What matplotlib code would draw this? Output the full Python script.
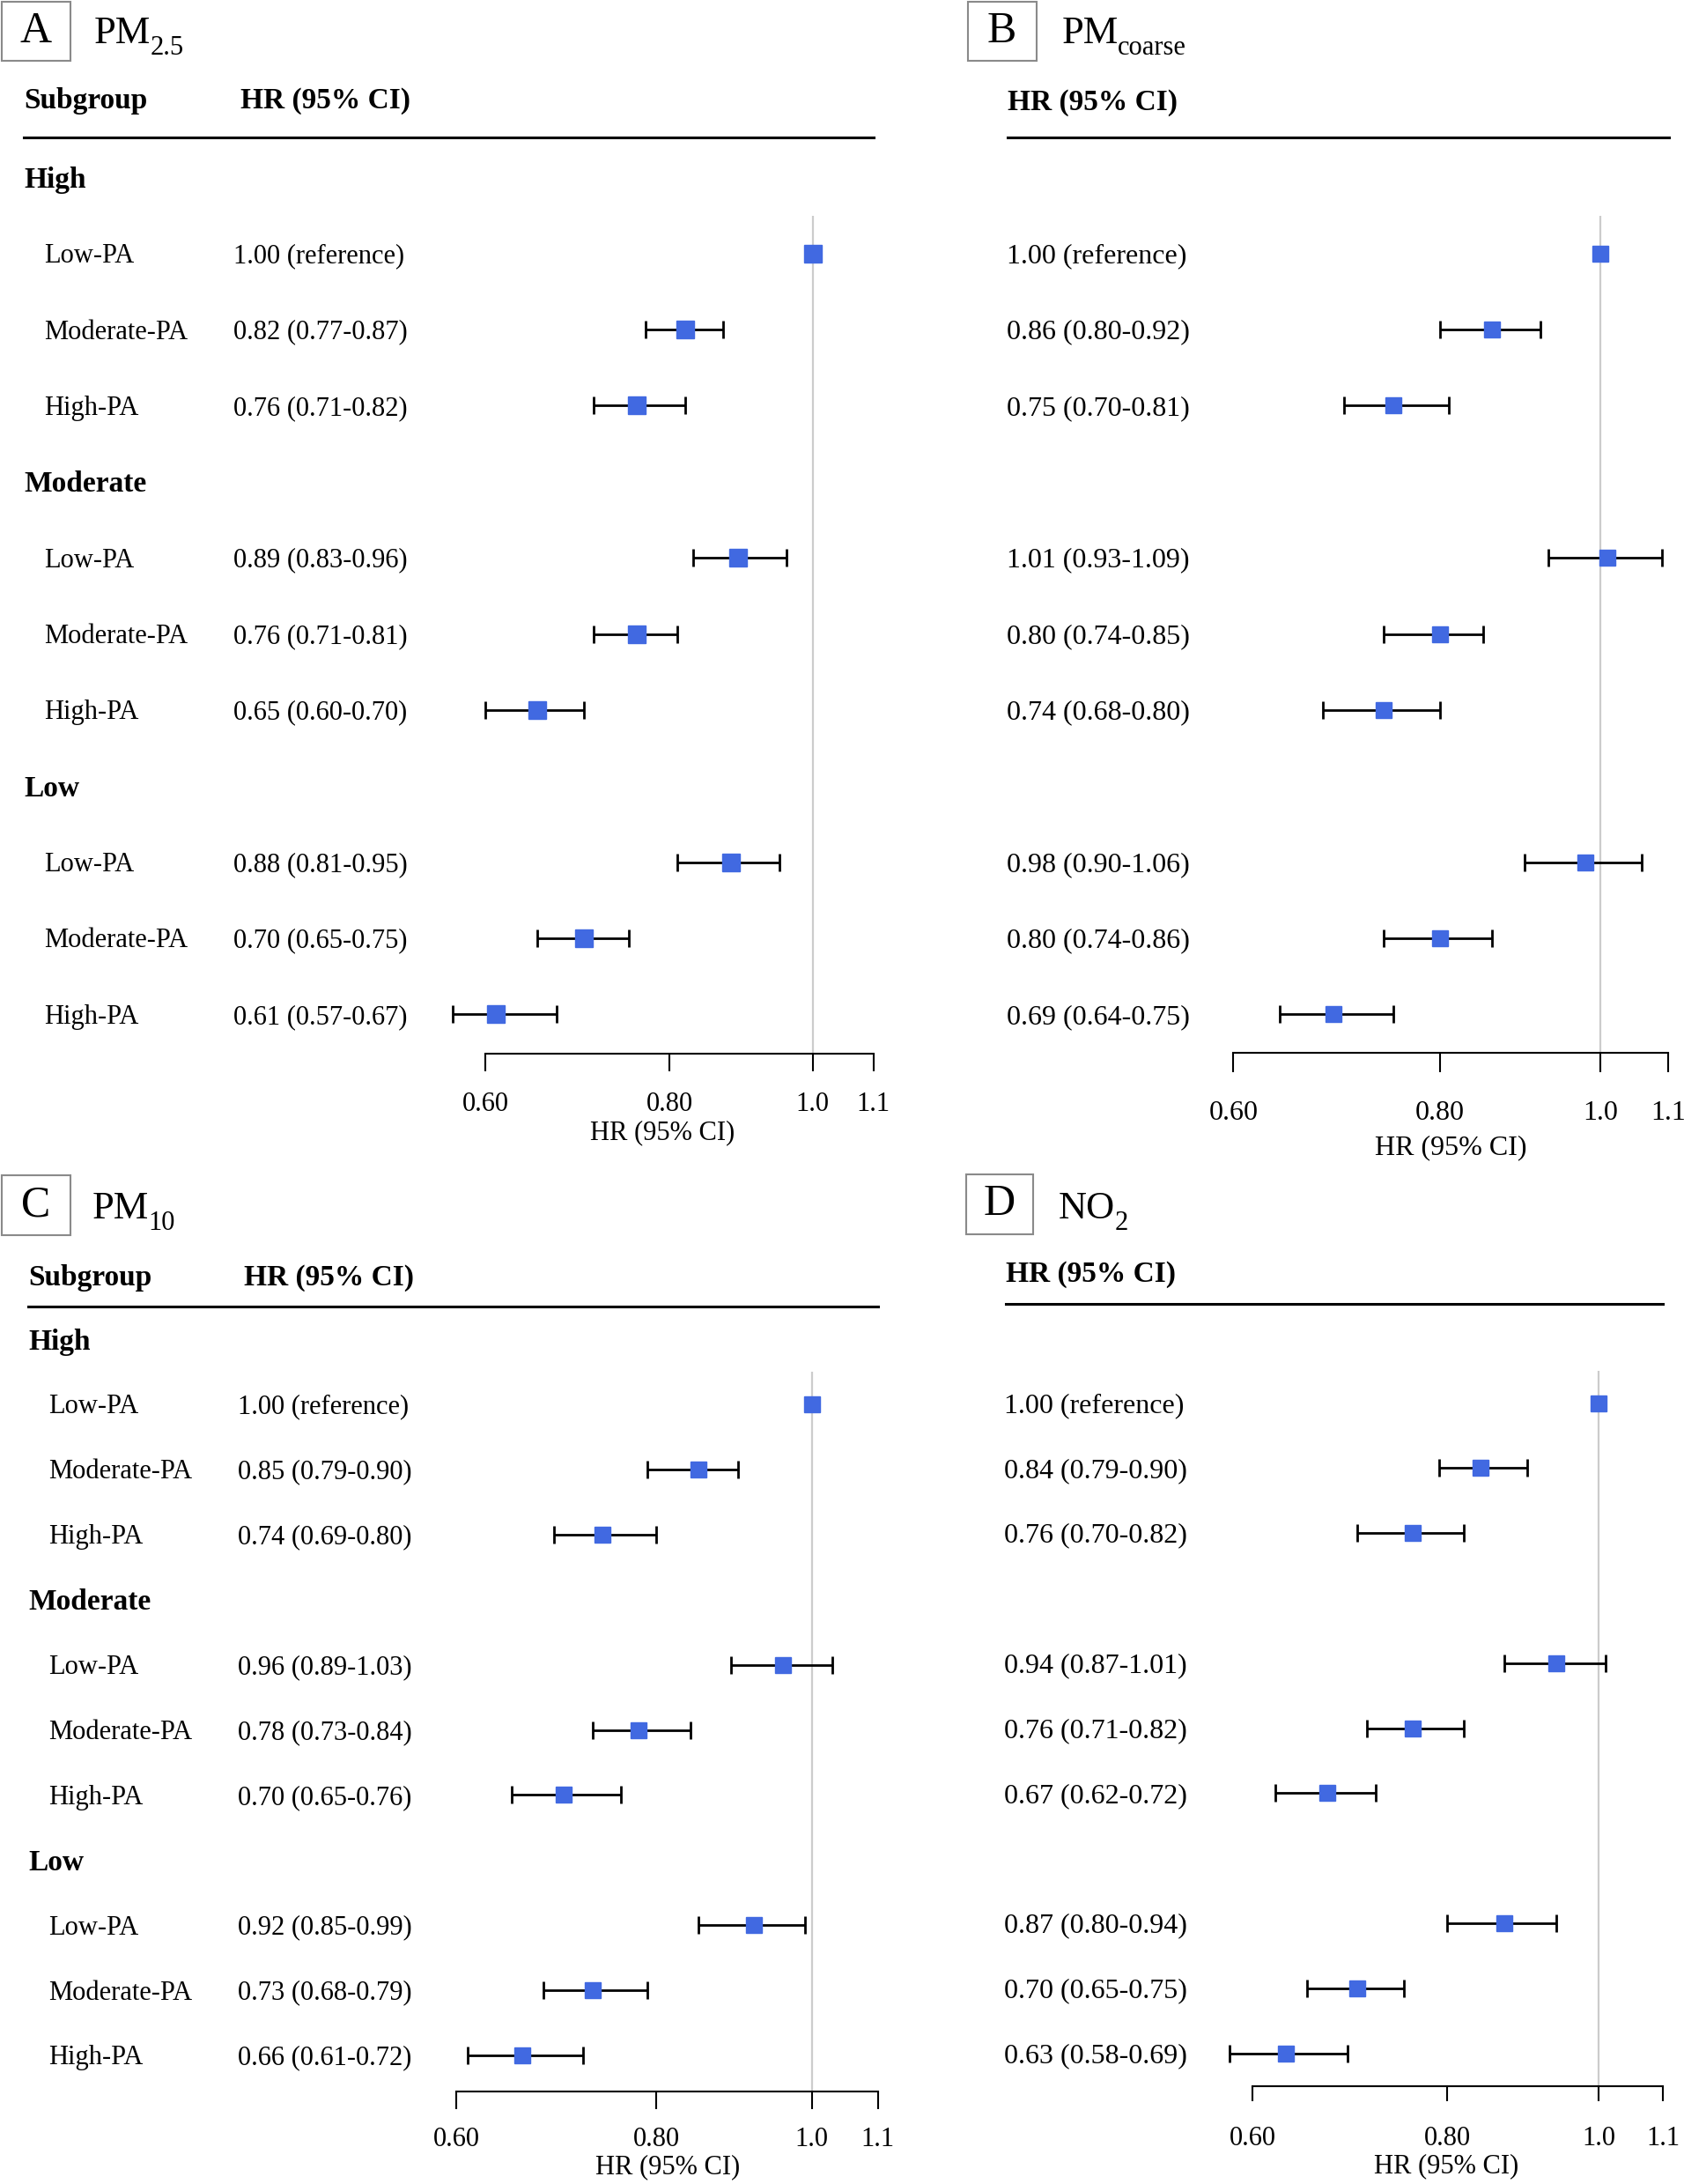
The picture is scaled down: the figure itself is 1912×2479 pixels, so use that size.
import numpy as np
import matplotlib
matplotlib.use("Agg")
import matplotlib.pyplot as plt
import matplotlib.transforms as mtransforms
from matplotlib.patches import Rectangle
from matplotlib.lines import Line2D

# ─── DATA ─────────────────────────────────────────────────────────────────────
nan = np.nan
groups = ["High", "Moderate", "Low"]
subgroups = ["Low-PA", "Moderate-PA", "High-PA"]
tick_vals = [0.60, 0.80, 1.0, 1.1]
tick_labels = ["0.60", "0.80", "1.0", "1.1"]

pm25_hr = [1.00, 0.82, 0.76, 0.89, 0.76, 0.65, 0.88, 0.70, 0.61]
pm25_lo = [nan, 0.77, 0.71, 0.83, 0.71, 0.60, 0.81, 0.65, 0.57]
pm25_hi = [nan, 0.87, 0.82, 0.96, 0.81, 0.70, 0.95, 0.75, 0.67]

pmc_hr = [1.00, 0.86, 0.75, 1.01, 0.80, 0.74, 0.98, 0.80, 0.69]
pmc_lo = [nan, 0.80, 0.70, 0.93, 0.74, 0.68, 0.90, 0.74, 0.64]
pmc_hi = [nan, 0.92, 0.81, 1.09, 0.85, 0.80, 1.06, 0.86, 0.75]

pm10_hr = [1.00, 0.85, 0.74, 0.96, 0.78, 0.70, 0.92, 0.73, 0.66]
pm10_lo = [nan, 0.79, 0.69, 0.89, 0.73, 0.65, 0.85, 0.68, 0.61]
pm10_hi = [nan, 0.90, 0.80, 1.03, 0.84, 0.76, 0.99, 0.79, 0.72]

no2_hr = [1.00, 0.84, 0.76, 0.94, 0.76, 0.67, 0.87, 0.70, 0.63]
no2_lo = [nan, 0.79, 0.70, 0.87, 0.71, 0.62, 0.80, 0.65, 0.58]
no2_hi = [nan, 0.90, 0.82, 1.01, 0.82, 0.72, 0.94, 0.75, 0.69]

# ─── STYLE ────────────────────────────────────────────────────────────────────
plt.rcParams["font.family"] = ["Liberation Serif", "DejaVu Serif"]

BLUE = "#4169E1"
W, H = 1912, 2479

fig = plt.figure(figsize=(W / 100, H / 100), dpi=100, facecolor="white")
renderer = fig.canvas.get_renderer()


def fx(px):
    return px / W


def fy(py):
    return 1 - py / H


# layout per panel, in output pixels
panels = [
    dict(letter="A", title="PM", sub="2.5", hr=pm25_hr, lo=pm25_lo, hi=pm25_hi,
         box=(2, 2, 80, 69), title_x=107, title_base=49,
         head_y=115, line_y=156, line_x=(27, 992),
         sub_x=27, row_x=50, hr_x=265, hrhead_x=273,
         row1=287.8, sp=86.35, ax_x=(551.4, 991.8), ax_y=1195.7,
         fs=22, ms=14, tick_len=20, tick_c=1249, tick_fs=22, xl=(752, 1286)),
    dict(letter="B", title="PM", sub="coarse", hr=pmc_hr, lo=pmc_lo, hi=pmc_hi,
         box=(1099, 2, 1176.5, 69), title_x=1206, title_base=49,
         head_y=117, line_y=156, line_x=(1144, 1895),
         sub_x=None, row_x=None, hr_x=1143, hrhead_x=1144,
         row1=287.8, sp=86.35, ax_x=(1400.4, 1894.4), ax_y=1195,
         fs=23, ms=13.5, tick_len=22, tick_c=1260, tick_fs=23, xl=(1647, 1303)),
    dict(letter="C", title="PM", sub="10", hr=pm10_hr, lo=pm10_lo, hi=pm10_hi,
         box=(2, 1334, 80, 1402), title_x=105, title_base=1383,
         head_y=1450, line_y=1483, line_x=(32, 997),
         sub_x=32, row_x=55, hr_x=270, hrhead_x=277,
         row1=1594, sp=73.9, ax_x=(518.2, 996.8), ax_y=2374,
         fs=22, ms=13, tick_len=20, tick_c=2424, tick_fs=22, xl=(757.7, 2460)),
    dict(letter="D", title="NO", sub="2", hr=no2_hr, lo=no2_lo, hi=no2_hi,
         box=(1097, 1333, 1173, 1401), title_x=1202, title_base=1383,
         head_y=1446, line_y=1480, line_x=(1142, 1888),
         sub_x=None, row_x=None, hr_x=1140, hrhead_x=1142,
         row1=1592.6, sp=73.8, ax_x=(1422.3, 1888.3), ax_y=2368,
         fs=23, ms=13, tick_len=17, tick_c=2423, tick_fs=22, xl=(1641.7, 2459)),
]

group_rows = [0, 4, 8]
item_rows = np.array([1, 2, 3, 5, 6, 7, 9, 10, 11])

for p in panels:
    hr = np.array(p["hr"])
    lo = np.array(p["lo"])
    hi = np.array(p["hi"])

    # ─── forest axis ─────────────────────────────────────────────────────────
    top_px = p["row1"] - 0.5 * p["sp"]
    axis_row = 1 + (p["ax_y"] - p["row1"]) / p["sp"]
    x0, x1 = p["ax_x"]
    ax = fig.add_axes([fx(x0), fy(p["ax_y"]), (x1 - x0) / W, (p["ax_y"] - top_px) / H])
    ax.set_xscale("log")
    ax.set_xlim(0.6, 1.1)
    ax.set_ylim(axis_row, 0.5)
    ax.patch.set_visible(False)
    for s in ["top", "left", "right"]:
        ax.spines[s].set_visible(False)
    ax.spines["bottom"].set_linewidth(1.5)
    ax.set_yticks([])
    ax.set_xticks(tick_vals)
    ax.set_xticklabels(tick_labels)
    ax.minorticks_off()
    digit_half = 0.34 * p["tick_fs"] * 100 / 72
    pad_px = (p["tick_c"] - p["ax_y"]) - p["tick_len"] - digit_half
    ax.tick_params(axis="x", length=p["tick_len"] * 0.72, width=1.5,
                   pad=pad_px * 0.72, labelsize=p["tick_fs"])

    ax.axvline(1.0, color="#cccccc", lw=1.6, zorder=1)
    m = ~np.isnan(lo)
    ax.errorbar(hr[m], item_rows[m], xerr=[hr[m] - lo[m], hi[m] - hr[m]],
                fmt="none", ecolor="black", elinewidth=2, capsize=7, capthick=2,
                zorder=2, clip_on=False)
    ax.plot(hr, item_rows, "s", color=BLUE, ms=p["ms"], mec=BLUE, zorder=3,
            clip_on=False, linestyle="none")

    # ─── text columns ───────────────────────────────────────────────────────
    # x in figure fraction, y in row units; nudged a few pixels down
    trans = mtransforms.blended_transform_factory(fig.transFigure, ax.transData)
    trans = trans + mtransforms.ScaledTranslation(0, -3 / 100, fig.dpi_scale_trans)
    for i, r in enumerate(item_rows):
        if np.isnan(lo[i]):
            label = f"{hr[i]:.2f} (reference)"
        else:
            label = f"{hr[i]:.2f} ({lo[i]:.2f}-{hi[i]:.2f})"
        fig.text(fx(p["hr_x"]), r, label, transform=trans, fontsize=p["fs"],
                 ha="left", va="center")
        if p["row_x"] is not None:
            fig.text(fx(p["row_x"]), r, subgroups[i % 3], transform=trans,
                     fontsize=p["fs"], ha="left", va="center")
    if p["sub_x"] is not None:
        for g, r in zip(groups, group_rows):
            fig.text(fx(p["sub_x"]), r, g, transform=trans, fontsize=24,
                     fontweight="bold", ha="left", va="center")
        fig.text(fx(p["sub_x"]), fy(p["head_y"]), "Subgroup", fontsize=24,
                 fontweight="bold", ha="left", va="center")
    fig.text(fx(p["hrhead_x"]), fy(p["head_y"]), "HR (95% CI)", fontsize=24,
             fontweight="bold", ha="left", va="center")

    lx0, lx1 = p["line_x"]
    fig.add_artist(Line2D([fx(lx0), fx(lx1)], [fy(p["line_y"])] * 2,
                          transform=fig.transFigure, color="black", lw=2.2))

    fig.text(fx(p["xl"][0]), fy(p["xl"][1]), "HR (95% CI)",
             fontsize=p["tick_fs"], ha="center", va="center")

    # ─── panel label and title ──────────────────────────────────────────────
    bx0, by0, bx1, by1 = p["box"]
    fig.add_artist(Rectangle((fx(bx0), fy(by1)), (bx1 - bx0) / W, (by1 - by0) / H,
                             transform=fig.transFigure, fill=False,
                             edgecolor="#8a8a8a", lw=1.5))
    fig.text(fx((bx0 + bx1) / 2), fy((by0 + by1) / 2), p["letter"], fontsize=36,
             ha="center", va="center")
    t = fig.text(fx(p["title_x"]), fy(p["title_base"]), p["title"], fontsize=32,
                 ha="left", va="baseline")
    ext = t.get_window_extent(renderer=renderer)
    fig.text(ext.x1 / W - 1 / W, fy(p["title_base"] + 13), p["sub"], fontsize=22,
             ha="left", va="baseline")

fig.savefig("out.png", dpi=100, facecolor="white")
